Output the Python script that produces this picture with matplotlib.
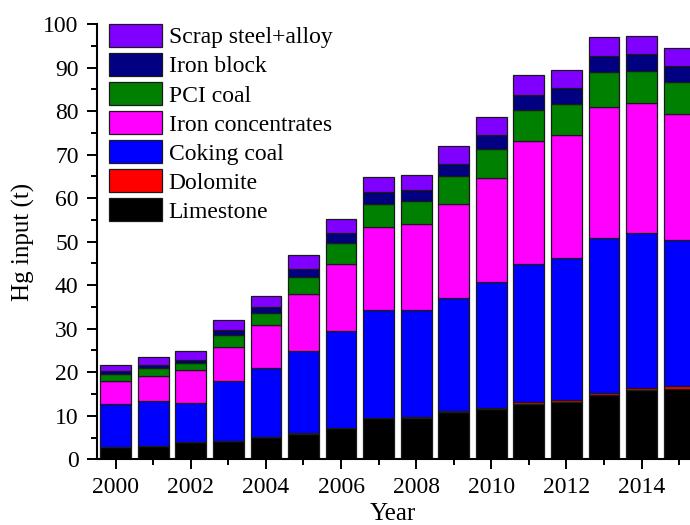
import numpy as np
import matplotlib
matplotlib.use('Agg')
from matplotlib import pyplot as plt
from matplotlib.ticker import MultipleLocator

plt.rcParams['font.family'] = ['Liberation Serif', 'DejaVu Serif']

years = np.arange(2000, 2016)

# Hg input by source (t), bottom to top of each stack
limestone = [2.8, 3.0, 3.9, 4.2, 5.1, 5.9, 7.1, 9.4, 9.6, 10.8, 11.5, 12.8, 13.2, 14.7, 15.9, 16.2]
dolomite = [0.05, 0.05, 0.05, 0.05, 0.05, 0.05, 0.1, 0.1, 0.15, 0.3, 0.3, 0.4, 0.4, 0.5, 0.5, 0.6]
coking_coal = [9.75, 10.45, 9.05, 13.75, 15.85, 18.95, 22.3, 24.8, 24.55, 25.9, 28.9, 31.6, 32.6, 35.6, 35.7, 33.5]
iron_conc = [5.4, 5.6, 7.5, 7.9, 9.8, 13.0, 15.3, 19.1, 19.7, 21.7, 24.0, 28.4, 28.2, 30.2, 29.7, 29.0]
pci_coal = [1.5, 1.8, 1.6, 2.6, 2.8, 4.0, 4.8, 5.3, 5.3, 6.3, 6.5, 7.1, 7.3, 7.9, 7.4, 7.4]
iron_block = [0.8, 0.8, 0.8, 1.1, 1.3, 1.9, 2.3, 2.6, 2.5, 2.9, 3.2, 3.4, 3.6, 3.8, 3.9, 3.6]
scrap = [1.4, 1.8, 1.9, 2.3, 2.7, 3.1, 3.2, 3.5, 3.6, 4.0, 4.2, 4.5, 4.1, 4.2, 4.2, 4.1]

series = [
    ('Limestone', limestone, '#000000'),
    ('Dolomite', dolomite, '#ff0000'),
    ('Coking coal', coking_coal, '#0000ff'),
    ('Iron concentrates', iron_conc, '#ff00ff'),
    ('PCI coal', pci_coal, '#008000'),
    ('Iron block', iron_block, '#000080'),
    ('Scrap steel+alloy', scrap, '#8000ff'),
]

fig = plt.figure(figsize=(6.9, 5.25), dpi=100)
ax = fig.add_axes([0.1401, 0.1251, 0.8599, 0.8292])

bottom = np.zeros(len(years))
handles = []
for name, vals, col in series:
    h = ax.bar(years, vals, width=0.82, bottom=bottom, color=col,
               edgecolor='#1a1a1a', linewidth=0.9, label=name)
    handles.append(h)
    bottom += np.array(vals)

ax.set_xlim(1999.494, 2015.29)
ax.set_ylim(0, 100)
ax.xaxis.set_major_locator(MultipleLocator(2))
ax.xaxis.set_minor_locator(MultipleLocator(1))
ax.yaxis.set_major_locator(MultipleLocator(10))
ax.yaxis.set_minor_locator(MultipleLocator(5))
ax.tick_params(which='major', direction='out', length=7, width=1.4, labelsize=17, pad=6)
ax.tick_params(which='minor', direction='out', length=4, width=1.4)
for s in ['top', 'right']:
    ax.spines[s].set_visible(False)
for s in ['left', 'bottom']:
    ax.spines[s].set_linewidth(1.5)

ax.set_xlabel('Year', fontsize=18, labelpad=3)
ax.set_ylabel('Hg input (t)', fontsize=18, labelpad=6)

# legend listed top-down in stacking order reversed
leg = ax.legend(handles[::-1], [s[0] for s in series][::-1], loc='upper left',
                bbox_to_anchor=(0.02, 1.0), frameon=False, fontsize=17,
                handlelength=2.25, handleheight=1.1, labelspacing=0.2,
                handletextpad=0.3, borderaxespad=0.0, borderpad=0.0)

fig.savefig('out.png', dpi=100)
